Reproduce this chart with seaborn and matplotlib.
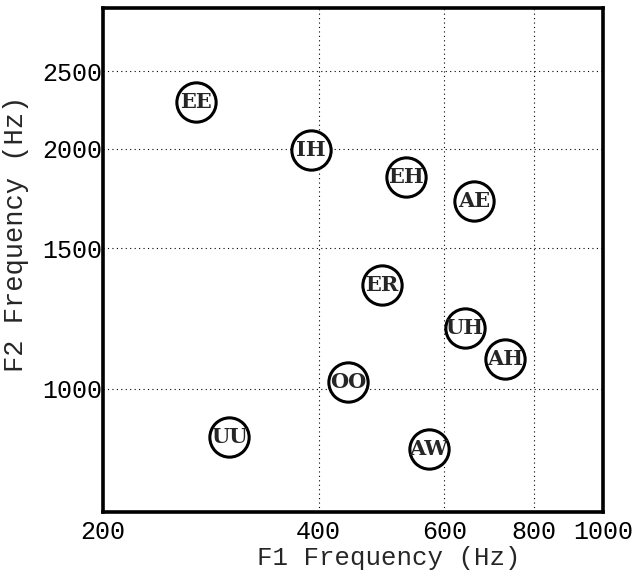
import pandas as pd
import matplotlib
matplotlib.use("Agg")
import matplotlib.pyplot as plt
import seaborn as sns
from matplotlib.ticker import FixedLocator, NullLocator

# vowel formant averages
vowels = ["EE", "IH", "EH", "AE", "ER", "UH", "AH", "OO", "UU", "AW"]
f1 = [270, 390, 530, 660, 490, 640, 730, 440, 300, 570]
f2 = [2290, 1990, 1840, 1720, 1350, 1190, 1090, 1020, 870, 840]

x_ticks = [200, 400, 600, 800, 1000]
y_ticks = [1000, 1500, 2000, 2500]

sns.set_style("white")
plt.rcParams["font.family"] = ["Liberation Mono", "DejaVu Sans Mono"]

df = pd.DataFrame({"vowel": vowels, "F1": f1, "F2": f2})

fig = plt.figure(figsize=(6.41, 5.78), dpi=100)
ax = fig.add_axes([0.161, 0.114, 0.780, 0.872])

ax.set_xscale("log")
ax.set_yscale("log")
ax.set_xlim(200, 1000)
ax.set_ylim(700, 3000)

sns.scatterplot(data=df, x="F1", y="F2", ax=ax, s=800, marker="o",
                facecolor="white", edgecolor="black", linewidth=2.2, zorder=3)

for _, row in df.iterrows():
    ax.text(row["F1"], row["F2"], row["vowel"], ha="center", va="center",
            fontsize=15, fontweight="bold", family="DejaVu Serif", zorder=4)

ax.xaxis.set_major_locator(FixedLocator(x_ticks))
ax.xaxis.set_minor_locator(NullLocator())
ax.yaxis.set_major_locator(FixedLocator(y_ticks))
ax.yaxis.set_minor_locator(NullLocator())
ax.set_xticklabels([str(t) for t in x_ticks])
ax.set_yticklabels([str(t) for t in y_ticks])

ax.grid(True, which="major", linestyle=(0, (1, 3)), color="black", linewidth=0.8)
ax.tick_params(direction="in", length=3, width=1.2, labelsize=18, colors="black")
ax.tick_params(axis="y", pad=1)
ax.tick_params(axis="x", pad=6)

for sp in ax.spines.values():
    sp.set_linewidth(2.6)
    sp.set_color("black")

ax.set_xlabel("F1 Frequency (Hz)", fontsize=18.5)
ax.set_ylabel("F2 Frequency (Hz)", fontsize=19.5)
ax.xaxis.set_label_coords(0.572, -0.068)
ax.yaxis.set_label_coords(-0.148, 0.552)

fig.savefig("out.png", dpi=100)
